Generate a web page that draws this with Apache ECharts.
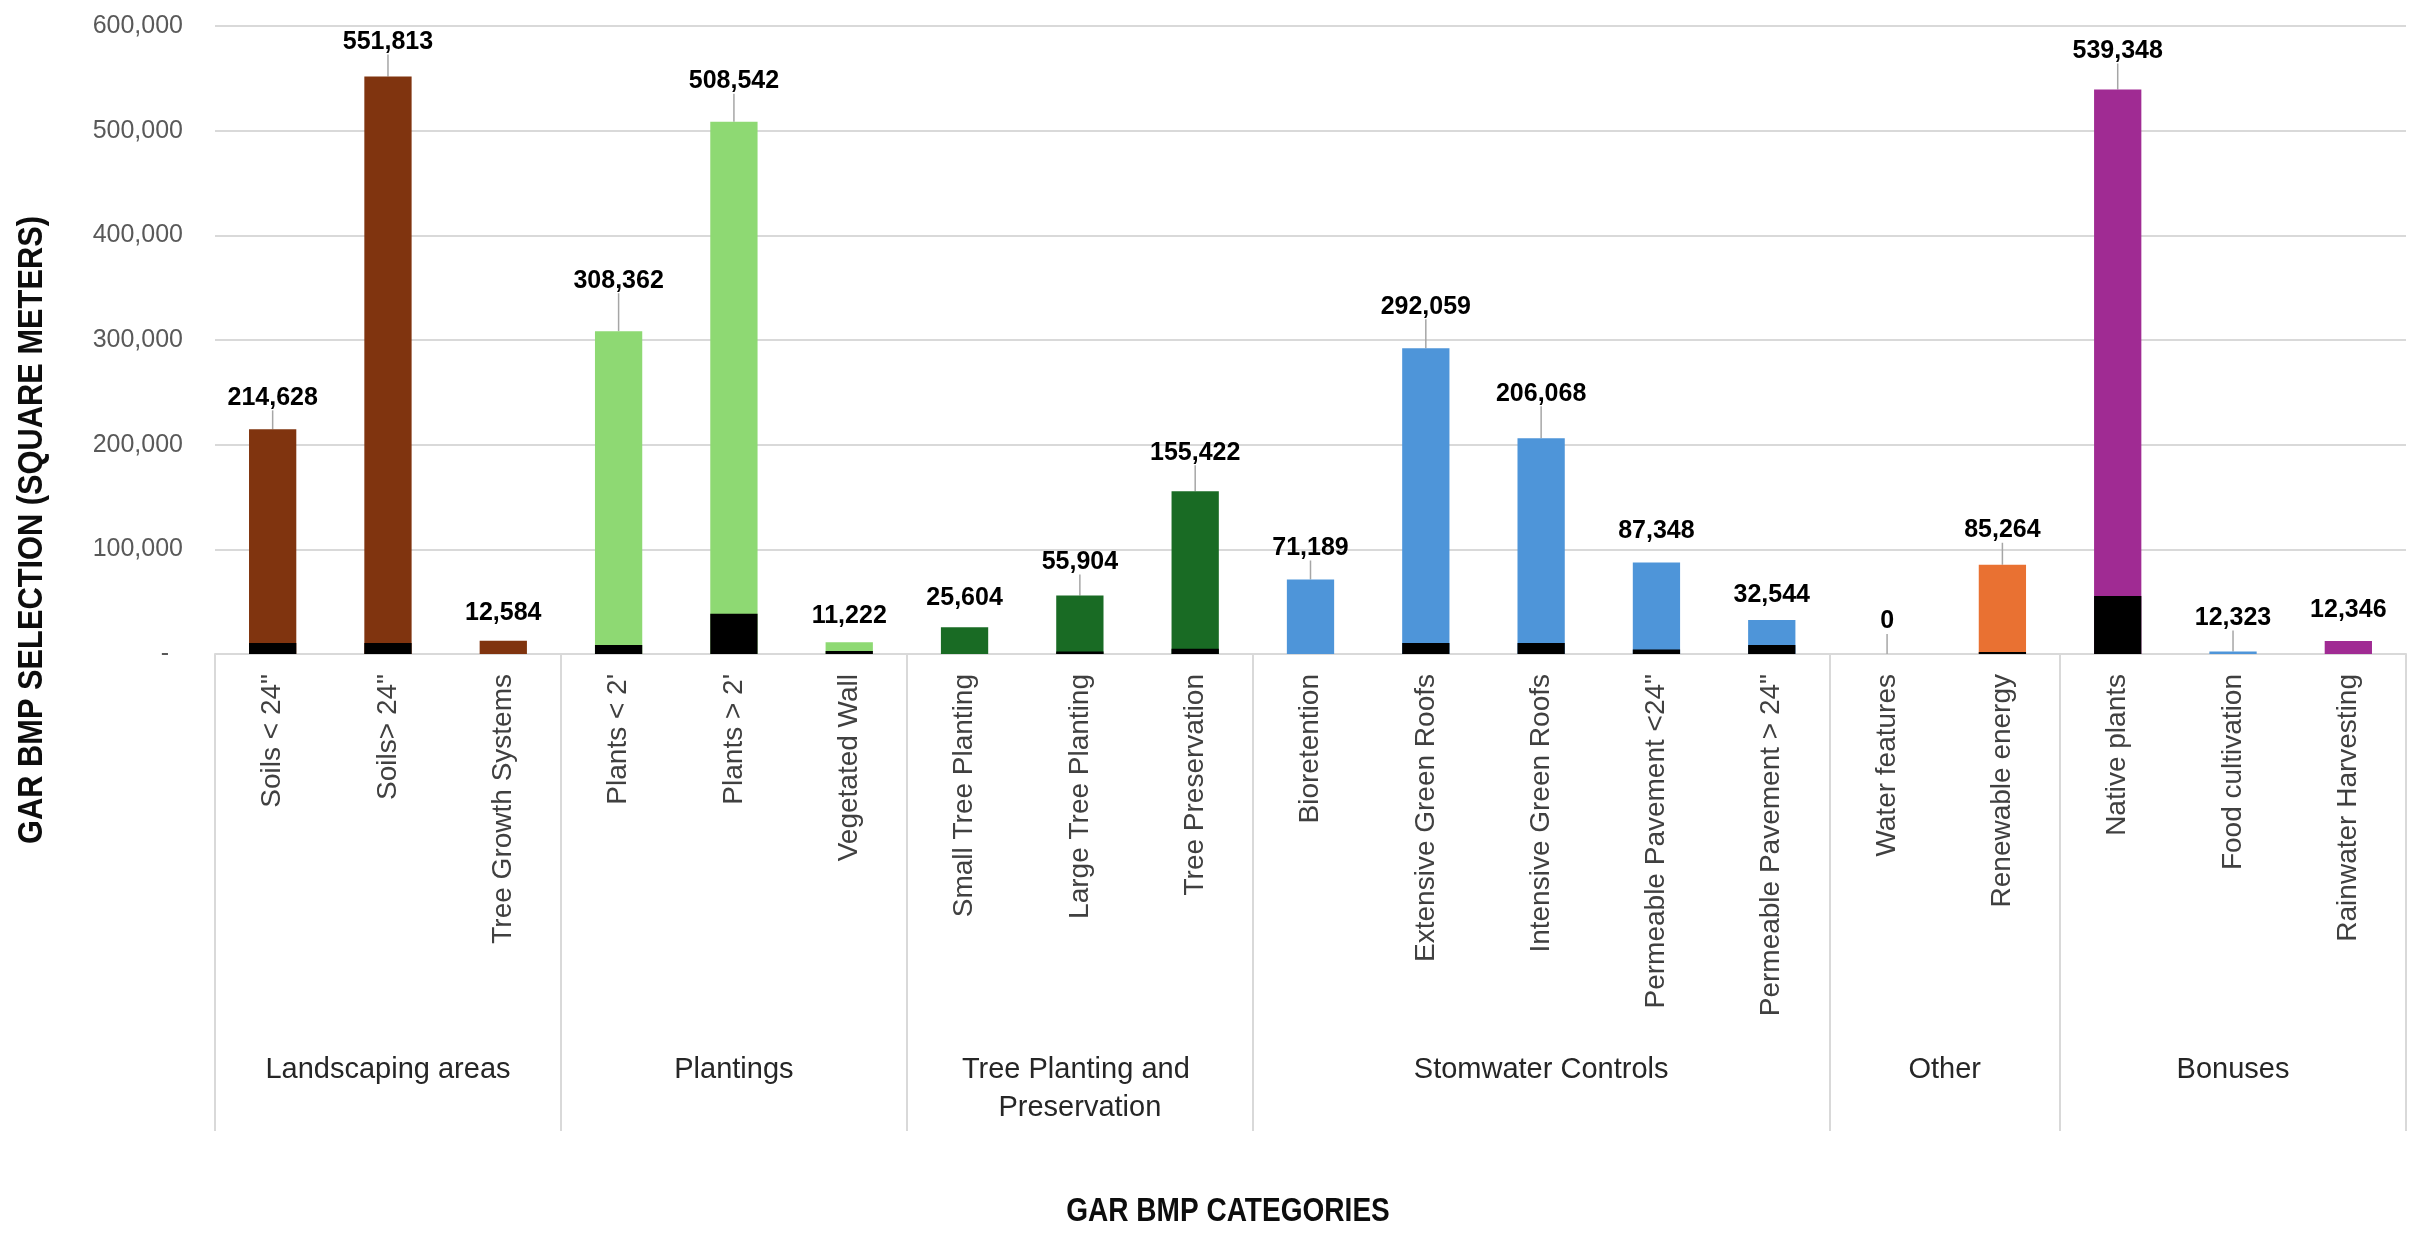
<!DOCTYPE html>
<html>
<head>
<meta charset="utf-8">
<title>GAR BMP selection</title>
<script src="https://cdn.jsdelivr.net/npm/echarts@6.0.0/dist/echarts.min.js"></script>
<style>
  html, body { margin: 0; padding: 0; background: #fff; }
  #chart { width: 2422px; height: 1238px; }
</style>
</head>
<body>
<div id="chart"></div>
<script>
// categories along the axis
var categories = [
    'Soils < 24"', 'Soils> 24"', 'Tree Growth Systems',
    "Plants < 2'", "Plants > 2'", 'Vegetated Wall',
    'Small Tree Planting', 'Large Tree Planting', 'Tree Preservation',
    'Bioretention', 'Extensive Green Roofs', 'Intensive Green Roofs',
    'Permeable Pavement <24"', 'Permeable Pavement > 24"',
    'Water features', 'Renewable energy',
    'Native plants', 'Food cultivation', 'Rainwater Harvesting'
];
var groupNames = ['Landscaping areas', 'Plantings', 'Tree Planting and Preservation',
    'Stomwater Controls', 'Other', 'Bonuses'];
var groupSizes = [3, 3, 3, 5, 2, 3];

// totals printed above the bars
var labelTotals = [214628, 551813, 12584, 308362, 508542, 11222, 25604, 55904, 155422,
    71189, 292059, 206068, 87348, 32544, 0, 85264, 539348, 12323, 12346];
// bar heights as drawn (food cultivation bar is drawn much lower than its label)
var barHeights = [214628, 551813, 12584, 308362, 508542, 11222, 25604, 55904, 155422,
    71189, 292059, 206068, 87348, 32544, 0, 85264, 539348, 2500, 12346];
// black base part of each bar (estimated)
var blackBase = [10600, 10600, 0, 8600, 38400, 2800, 0, 2500, 5000,
    0, 10500, 10500, 4300, 8600, 0, 2000, 55400, 0, 0];

var yTicks = { min: 0, max: 600000, step: 100000 };

// styles: bar colour per category, label lift (px above bar top), leader line flags
var BROWN = '#80340F', LGREEN = '#8ED973', DGREEN = '#196B24',
    BLUE = '#4E95D9', ORANGE = '#E97132', PURPLE = '#A02B93';
var barColors = [BROWN, BROWN, BROWN, LGREEN, LGREEN, LGREEN, DGREEN, DGREEN, DGREEN,
    BLUE, BLUE, BLUE, BLUE, BLUE, ORANGE, ORANGE, PURPLE, BLUE, PURPLE];
var labelLift = [31, 34, 27, 50, 40, 26, 29, 33, 38, 31, 41, 44, 31, 24, 32, 34, 38, 33, 30];
var leaderShown = [1, 1, 0, 1, 1, 0, 0, 1, 1, 1, 1, 1, 0, 0, 1, 1, 1, 1, 0];

var chart = echarts.init(document.getElementById('chart'));

var mainData = barHeights.map(function (v, i) {
    return {
        value: v,
        itemStyle: { color: barColors[i] },
        label: { distance: leaderShown[i] ? 0 : labelLift[i] - 12 },
        labelLine: { show: !!leaderShown[i] }
    };
});

// half-category slots for the group axis: boundaries and group centres fall on slots
var groupSlots = [];
for (var s = 0; s <= categories.length * 2; s++) groupSlots.push('');
var boundarySlots = { 0: true };
var start = 0;
for (var j = 0; j < groupSizes.length; j++) {
    groupSlots[start * 2 + groupSizes[j]] = groupNames[j];
    start += groupSizes[j];
    boundarySlots[start * 2] = true;
}

var gridColor = '#d9d9d9';

var option = {
    backgroundColor: '#ffffff',
    animation: false,
    grid: {
        left: 215, right: 16, top: 26, bottom: 584,
        containLabel: false, outerBoundsMode: 'none'
    },
    xAxis: [
        {
            type: 'category',
            data: categories,
            axisLine: { show: true, lineStyle: { color: gridColor, width: 2 } },
            axisTick: { show: false },
            axisLabel: {
                interval: 0,
                rotate: 90,
                margin: 20,
                fontSize: 28,
                fontFamily: 'Liberation Sans, Arial, sans-serif',
                color: '#404040'
            },
            splitLine: { show: false }
        },
        {
            type: 'category',
            data: groupSlots,
            boundaryGap: false,
            position: 'bottom',
            axisLine: { show: false },
            axisTick: {
                show: true,
                length: 477,
                interval: function (index) { return !!boundarySlots[index]; },
                lineStyle: { color: gridColor, width: 2 }
            },
            axisLabel: {
                interval: 0,
                margin: 397,
                fontSize: 29,
                lineHeight: 38,
                width: 330,
                overflow: 'break',
                fontFamily: 'Liberation Sans, Arial, sans-serif',
                color: '#262626',
                verticalAlign: 'top'
            },
            splitLine: { show: false }
        }
    ],
    yAxis: {
        type: 'value',
        min: yTicks.min,
        max: yTicks.max,
        interval: yTicks.step,
        axisLine: { show: false },
        axisTick: { show: false },
        splitLine: { lineStyle: { color: gridColor, width: 2 } },
        axisLabel: {
            margin: 32,
            fontSize: 25,
            fontFamily: 'Liberation Sans, Arial, sans-serif',
            color: '#595959',
            formatter: function (v) {
                return v === 0 ? '-  ' : v.toLocaleString('en-US');
            }
        }
    },
    series: [
        {
            name: 'Total',
            type: 'bar',
            barWidth: '41%',
            barGap: '-100%',
            data: mainData,
            label: {
                show: true,
                position: 'top',
                fontSize: 25,
                fontWeight: 'bold',
                fontFamily: 'Liberation Sans, Arial, sans-serif',
                color: '#000',
                formatter: function (p) {
                    return labelTotals[p.dataIndex].toLocaleString('en-US');
                }
            },
            labelLine: {
                show: true,
                lineStyle: { color: '#a6a6a6', width: 1.5 }
            },
            labelLayout: function (p) {
                var i = p.dataIndex;
                if (!leaderShown[i]) return {};
                return { dy: -(labelLift[i] - 12) };
            },
            z: 2
        },
        {
            name: 'Base',
            type: 'bar',
            barWidth: '41%',
            barGap: '-100%',
            data: blackBase,
            itemStyle: { color: '#000000' },
            silent: true,
            z: 3
        }
    ],
    graphic: [
        {
            type: 'text',
            x: 32, y: 530,
            rotation: Math.PI / 2,
            scaleX: 0.88,
            style: {
                text: 'GAR BMP SELECTION (SQUARE METERS)',
                fontSize: 35, fontWeight: 'bold',
                fontFamily: 'Liberation Sans, Arial, sans-serif',
                fill: '#0d0d0d',
                align: 'center', verticalAlign: 'middle',
                textAlign: 'center', textVerticalAlign: 'middle'
            }
        },
        {
            type: 'text',
            x: 1228, y: 1212,
            scaleX: 0.85,
            style: {
                text: 'GAR BMP CATEGORIES',
                fontSize: 33, fontWeight: 'bold',
                fontFamily: 'Liberation Sans, Arial, sans-serif',
                fill: '#0d0d0d',
                align: 'center', verticalAlign: 'middle',
                textAlign: 'center', textVerticalAlign: 'middle'
            }
        }
    ]
};

chart.setOption(option);
</script>
</body>
</html>
